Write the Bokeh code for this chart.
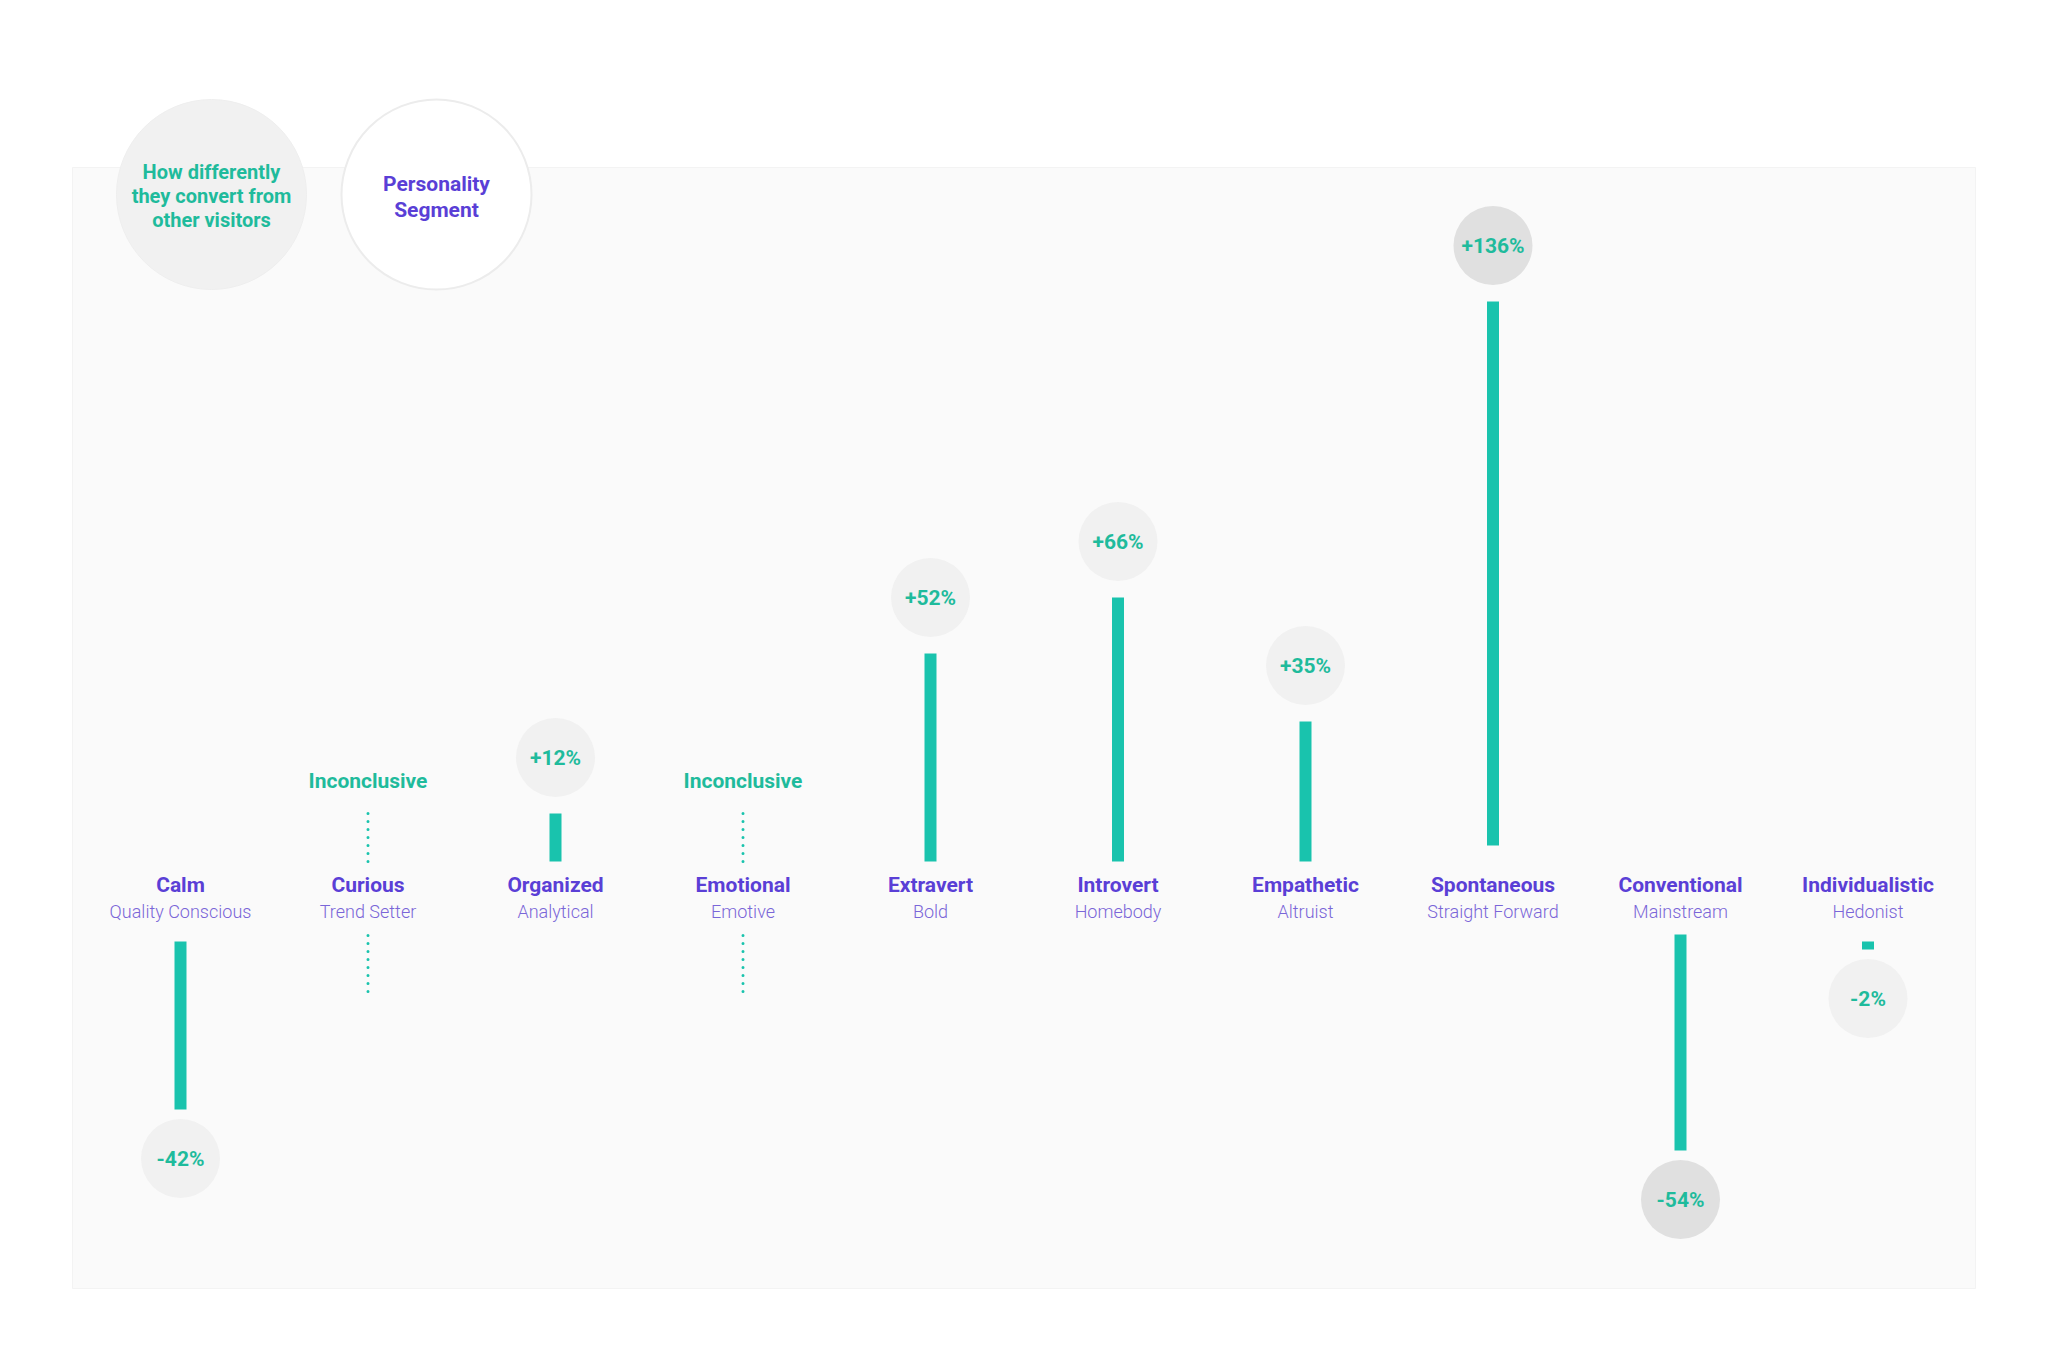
from bokeh.plotting import figure
from bokeh.models import Range1d
from bokeh.core.properties import value
from bokeh.embed import file_html
from bokeh.resources import INLINE

# ---------------- data ----------------
names = ["Calm", "Curious", "Organized", "Emotional", "Extravert",
         "Introvert", "Empathetic", "Spontaneous", "Conventional", "Individualistic"]
subtitles = ["Quality Conscious", "Trend Setter", "Analytical", "Emotive", "Bold",
             "Homebody", "Altruist", "Straight Forward", "Mainstream", "Hedonist"]
# conversion difference vs. other visitors, % (None = inconclusive)
values = [-42, None, 12, None, 52, 66, 35, 136, -54, -2]
header_left = ["How differently", "they convert from", "other visitors"]
header_right = ["Personality", "Segment"]
inconclusive_label = "Inconclusive"

# ---------------- style / layout ----------------
W, H = 2032, 1345
COL_PX = 187.5          # px per column
UNIT_PX = 4.0           # px per percentage point
X0_PX = 180             # px of first column centre inside the figure
Y0_PX = 861             # px of positive baseline from figure top
NEG_BASE = -20          # baseline (in % units) where negative bars start
POS_GAP = 14            # circle centre offset above positive bar
NEG_GAP = 12.25         # circle centre offset below negative bar
base_shift = {"Spontaneous": 4, "Conventional": 1.75}

TEAL = "#19c3ad"
TEAL_TXT = "#1fbb9c"
PURPLE = "#5a3fd6"
PURPLE_LIGHT = "#7a66d8"
CIRCLE = "#f1f1f1"
CIRCLE_DARK = "#e0e0e0"
FONT = value("Roboto")
FONT_LIGHT = value("Roboto Light, Roboto")

p = figure(width=W, height=H, output_backend="svg", toolbar_location=None,
           x_range=Range1d(-X0_PX / COL_PX, (W - X0_PX) / COL_PX),
           y_range=Range1d(-(H - Y0_PX) / UNIT_PX, Y0_PX / UNIT_PX))
p.axis.visible = False
p.xgrid.visible = False
p.ygrid.visible = False
p.outline_line_color = None
p.min_border = 0
p.background_fill_color = "white"
p.border_fill_color = "white"


def px_x(px):
    return (px - X0_PX) / COL_PX


def px_y(py):
    return (Y0_PX - py) / UNIT_PX


# background panel
p.quad(left=px_x(72), right=px_x(1975), top=px_y(167), bottom=px_y(1288),
       fill_color="#fafafa", line_color="#f3f3f3", line_width=1)

# header circles
hx1, hx2 = px_x(211), px_x(436)
hy = px_y(194)
p.scatter([hx1], [hy], size=190, marker="circle", fill_color="#f1f1f1",
          line_color="#eeeeee", line_width=1)
p.scatter([hx2], [hy], size=190, marker="circle", fill_color="white",
          line_color="#ececec", line_width=2)
p.text([hx1] * 3, [px_y(171), px_y(195), px_y(219)], text=header_left,
       text_font=FONT, text_font_style="bold", text_font_size="20px",
       text_color=TEAL_TXT, text_align="center", text_baseline="middle")
p.text([hx2] * 2, [px_y(183), px_y(209)], text=header_right,
       text_font=FONT, text_font_style="bold", text_font_size="21px",
       text_color=PURPLE, text_align="center", text_baseline="middle")

# bars and bubbles
xs = list(range(len(names)))
vmax = max(v for v in values if v is not None)
vmin = min(v for v in values if v is not None)
bx, btop, bbot, cx, cy, ccol, ctext = [], [], [], [], [], [], []
ix = []
for i, (n, v) in enumerate(zip(names, values)):
    if v is None:
        ix.append(i)
        continue
    b = base_shift.get(n, 0)
    if v >= 0:
        bx.append(i); bbot.append(b); btop.append(b + v)
        cy.append(b + v + POS_GAP)
    else:
        bx.append(i); btop.append(NEG_BASE + b); bbot.append(NEG_BASE + b + v)
        cy.append(NEG_BASE + b + v - NEG_GAP)
    cx.append(i)
    ccol.append(CIRCLE_DARK if v in (vmax, vmin) else CIRCLE)
    ctext.append(("+" if v > 0 else "") + f"{v}%")

p.vbar(x=bx, top=btop, bottom=bbot, width=12 / COL_PX, fill_color=TEAL, line_color=None)
p.scatter(cx, cy, size=79, marker="circle", fill_color=ccol, line_color=None)
p.text(cx, cy, text=ctext, text_font=FONT, text_font_style="bold",
       text_font_size="21px", text_color=TEAL_TXT, text_align="center",
       text_baseline="middle")

# inconclusive markers
for i in ix:
    p.line([i, i], [0, 13.75], line_color=TEAL, line_width=3, line_dash="0 8",
           line_cap="round")
    p.line([i, i], [-18.5, -34.5], line_color=TEAL, line_width=3, line_dash="0 8",
           line_cap="round")
p.text(ix, [20.25] * len(ix), text=[inconclusive_label] * len(ix), text_font=FONT,
       text_font_style="bold", text_font_size="21px", text_color=TEAL_TXT,
       text_align="center", text_baseline="middle")

# category labels
p.text(xs, [-5.75] * len(xs), text=names, text_font=FONT, text_font_style="bold",
       text_font_size="21px", text_color=PURPLE, text_align="center",
       text_baseline="middle")
p.text(xs, [-12.4] * len(xs), text=subtitles, text_font=FONT_LIGHT,
       text_font_size="18px", text_color=PURPLE_LIGHT, text_align="center",
       text_baseline="middle")

open("out.html", "w").write(file_html(p, INLINE))
